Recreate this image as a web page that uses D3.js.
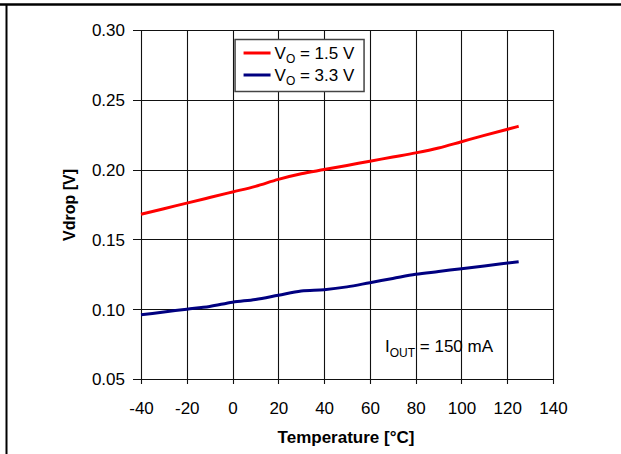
<!DOCTYPE html>
<html>
<head>
<meta charset="utf-8">
<script src="https://cdn.jsdelivr.net/npm/d3@7"></script>
<style>
  body { margin: 0; background: #ffffff; }
  text { font-family: "Liberation Sans", Arial, Helvetica, sans-serif; }
</style>
</head>
<body>
<div class="mainWrapper"></div>
<script>
// data
var temps = [-40, -30, -20, -10, 0, 10, 20, 30, 40, 50, 60, 70, 80, 90, 100, 110, 125];
var vdrop15 = [0.168, 0.172, 0.176, 0.180, 0.184, 0.188, 0.193, 0.197, 0.200, 0.203, 0.206, 0.209, 0.212, 0.2155, 0.220, 0.2245, 0.231];
var vdrop33 = [0.096, 0.098, 0.100, 0.102, 0.105, 0.107, 0.110, 0.113, 0.114, 0.116, 0.119, 0.122, 0.125, 0.127, 0.129, 0.131, 0.134];
var xTicks = [-40, -20, 0, 20, 40, 60, 80, 100, 120, 140];
var yTicks = [0.05, 0.10, 0.15, 0.20, 0.25, 0.30];
var seriesNames = ["1.5 V", "3.3 V"];
var seriesColors = ["#ff0000", "#000080"];

// set the dimensions and margins of the graph
var margin = {top: 30, right: 68, bottom: 75, left: 141},
    width = 621 - margin.left - margin.right,
    height = 454 - margin.top - margin.bottom;

var root = d3.select(".mainWrapper")
  .append("svg")
    .attr("width", 621)
    .attr("height", 454);

// page frame lines (top and left)
root.append("line")
  .attr("x1", 0).attr("x2", 621).attr("y1", 4.5).attr("y2", 4.5)
  .attr("stroke", "#000").attr("stroke-width", 2.5);
root.append("line")
  .attr("x1", 6.5).attr("x2", 6.5).attr("y1", 4).attr("y2", 454)
  .attr("stroke", "#000").attr("stroke-width", 2);

var svg = root.append("g")
  .attr("transform", "translate(" + margin.left + "," + margin.top + ")");

var x = d3.scaleLinear().domain([-40, 140]).range([0, width]);
var y = d3.scaleLinear().domain([0.05, 0.30]).range([height, 0]);

// grid
svg.append("g")
  .selectAll("line")
  .data(xTicks)
  .enter()
  .append("line")
    .attr("x1", function(d) { return Math.round(x(d)) + 0.5; })
    .attr("x2", function(d) { return Math.round(x(d)) + 0.5; })
    .attr("y1", 0)
    .attr("y2", height + 5)
    .attr("stroke", "#111")
    .attr("stroke-width", 1.1);

svg.append("g")
  .selectAll("line")
  .data(yTicks)
  .enter()
  .append("line")
    .attr("x1", -8)
    .attr("x2", width)
    .attr("y1", function(d) { return Math.round(y(d)) + 0.5; })
    .attr("y2", function(d) { return Math.round(y(d)) + 0.5; })
    .attr("stroke", "#111")
    .attr("stroke-width", 1.1);

// axes labels via d3 axes (domain and ticks hidden, grid drawn above)
var xAxis = d3.axisBottom(x).tickValues(xTicks).tickSize(0).tickPadding(0)
  .tickFormat(function(d) { return String(d); });
svg.append("g")
  .attr("class", "xAxis")
  .call(xAxis)
  .attr("transform", "translate(0," + height + ")")
  .call(function(g) { g.select(".domain").remove(); })
  .selectAll("text")
    .attr("y", 29)
    .attr("dy", "0.35em")
    .style("font-size", "17px")
    .style("fill", "#000");

var yAxis = d3.axisLeft(y).tickValues(yTicks).tickSize(0).tickPadding(0).tickFormat(d3.format(".2f"));
svg.append("g")
  .attr("class", "yAxis")
  .call(yAxis)
  .call(function(g) { g.select(".domain").remove(); })
  .selectAll("text")
    .attr("x", -16)
    .attr("dy", "0.35em")
    .style("font-size", "17px")
    .style("fill", "#000");

svg.append("text")
  .attr("x", width / 2 - 1)
  .attr("y", height + 64)
  .style("text-anchor", "middle")
  .style("font-size", "17px")
  .style("font-weight", "bold")
  .text("Temperature [°C]");

svg.append("text")
  .attr("transform", "rotate(-90)")
  .attr("x", -175)
  .attr("y", -66)
  .style("text-anchor", "middle")
  .style("font-size", "16px")
  .style("font-weight", "bold")
  .text("Vdrop [V]");

// lines
var line = d3.line()
  .curve(d3.curveMonotoneX)
  .x(function(d) { return x(d[0]); })
  .y(function(d) { return y(d[1]); });

[vdrop15, vdrop33].forEach(function(vals, i) {
  svg.append("path")
    .datum(d3.zip(temps, vals))
    .attr("fill", "none")
    .attr("stroke", seriesColors[i])
    .attr("stroke-width", 3)
    .attr("d", line);
});

// legend
var legend = svg.append("g").attr("transform", "translate(" + (x(0) + 2) + "," + 9 + ")");
legend.append("rect")
  .attr("x", 0.5).attr("y", 0.5)
  .attr("width", 129).attr("height", 52)
  .attr("fill", "#fff")
  .attr("stroke", "#444")
  .attr("stroke-width", 1.5);

seriesNames.forEach(function(name, i) {
  var gy = 14 + i * 22;
  legend.append("line")
    .attr("x1", 9).attr("x2", 36)
    .attr("y1", gy).attr("y2", gy)
    .attr("stroke", seriesColors[i])
    .attr("stroke-width", 3);
  var t = legend.append("text")
    .attr("x", 40)
    .attr("y", gy + 6)
    .style("font-size", "17px");
  t.append("tspan").text("V");
  t.append("tspan").attr("dy", 4).style("font-size", "12px").text("O");
  t.append("tspan").attr("dy", -4).text(" = " + name);
});

// annotation
var note = svg.append("text")
  .attr("x", 244)
  .attr("y", 322)
  .style("font-size", "17px");
note.append("tspan").text("I");
note.append("tspan").attr("dy", 5).style("font-size", "12px").text("OUT");
note.append("tspan").attr("dy", -5).text(" = 150 mA");
</script>
</body>
</html>
